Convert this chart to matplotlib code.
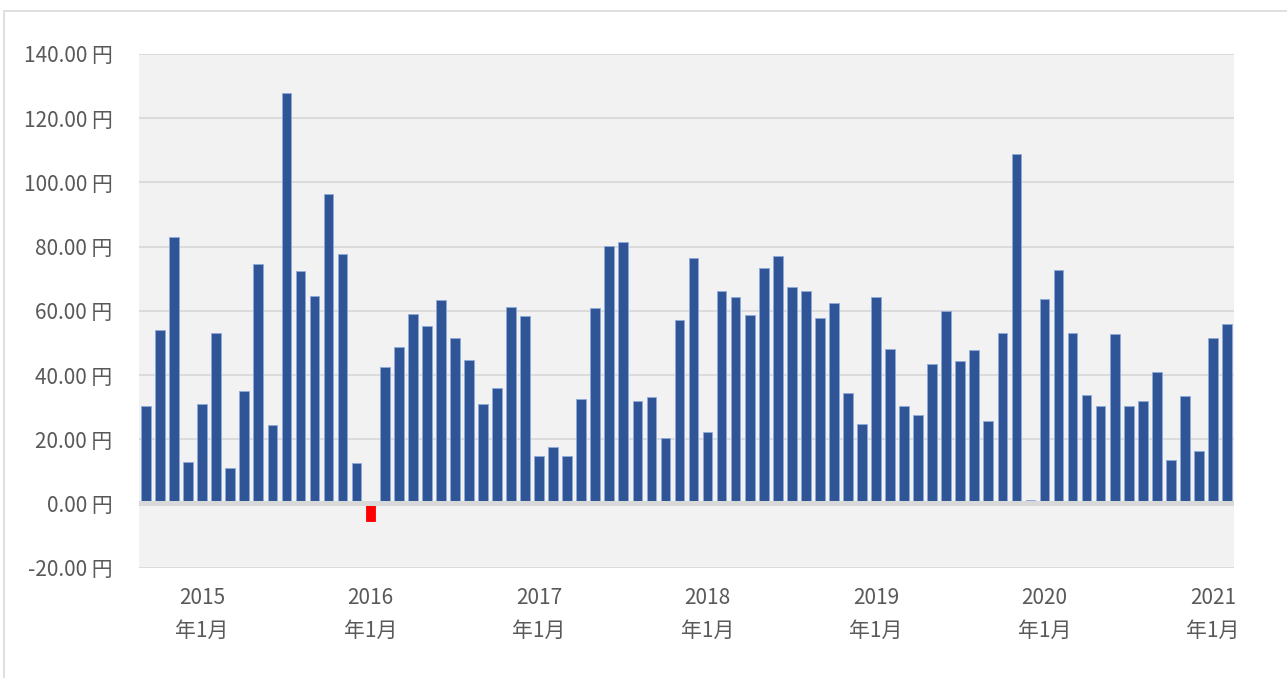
import matplotlib
matplotlib.use("Agg")
import matplotlib.pyplot as plt
from matplotlib.patches import Rectangle
import pandas as pd
import numpy as np

plt.rcParams['font.family'] = ['Noto Sans CJK JP', 'DejaVu Sans']

# Monthly values (円), 2014-09 .. 2021-02
months = pd.date_range("2014-09-01", periods=78, freq="MS")
values = [
    30.5, 53.9, 83.0, 12.8,                                              # 2014
    31.1, 53.2, 11.0, 35.1, 74.6, 24.4, 127.8, 72.3, 64.7, 96.4, 77.7, 12.6,  # 2015
    -5.4, 42.5, 48.75, 58.9, 55.2, 63.4, 51.4, 44.6, 31.1, 36.0, 61.1, 58.5,  # 2016
    14.8, 17.6, 14.8, 32.6, 60.8, 80.2, 81.4, 31.9, 33.3, 20.3, 57.0, 76.6,   # 2017
    22.4, 66.1, 64.2, 58.6, 73.2, 77.2, 67.5, 66.1, 57.8, 62.4, 34.5, 24.9,   # 2018
    64.2, 48.2, 30.4, 27.6, 43.5, 59.9, 44.3, 47.7, 25.8, 53.2, 109.0, 1.2,   # 2019
    63.6, 72.6, 53.1, 33.75, 30.4, 52.7, 30.4, 32.0, 40.9, 13.4, 33.5, 16.25, # 2020
    51.5, 56.0,                                                          # 2021
]
y_ticks = [-20, 0, 20, 40, 60, 80, 100, 120, 140]

W, H = 1287, 678
fig = plt.figure(figsize=(W / 100, H / 100), dpi=100)
fig.patch.set_facecolor("white")

# outer chart border
fig.patches.append(Rectangle((4 / W, -0.05), 1.2, 1 - 11 / H + 0.05,
                             transform=fig.transFigure, fill=False,
                             edgecolor="#D9D9D9", linewidth=1.2))

ax = fig.add_axes([139 / W, 1 - 567.7 / H, (1234 - 139) / W, (567.7 - 54) / H])
ax.set_facecolor("#F2F2F2")

x = np.arange(len(values))
colors = ["#FF0000" if v < 0 else "#2F5597" for v in values]
edges = ["#FF0000" if v < 0 else "#8EA9DB" for v in values]
ax.bar(x, values, width=0.69, color=colors, edgecolor=edges, linewidth=0.6, zorder=2)

ax.set_xlim(-0.5, len(values) - 0.5)
ax.set_ylim(-20, 140)
ax.set_yticks(y_ticks)
ax.set_yticklabels([f"{v:.2f} 円" for v in y_ticks])
ax.grid(axis="y", color="#D9D9D9", linewidth=1.3, zorder=1)
ax.axhline(0, color="#D9D9D9", linewidth=3.6, zorder=3)

tick_idx = [i for i, m in enumerate(months) if m.month == 1]
ax.set_xticks(tick_idx)
ax.set_xticklabels([f"{months[i].year}\n年1月" for i in tick_idx], linespacing=1.65)

for s in ax.spines.values():
    s.set_visible(False)
ax.tick_params(axis="y", length=0, pad=19, labelsize=15, labelcolor="#595959")
ax.tick_params(axis="x", length=0, pad=14, labelsize=15, labelcolor="#595959")

fig.savefig("out.png", dpi=100)
